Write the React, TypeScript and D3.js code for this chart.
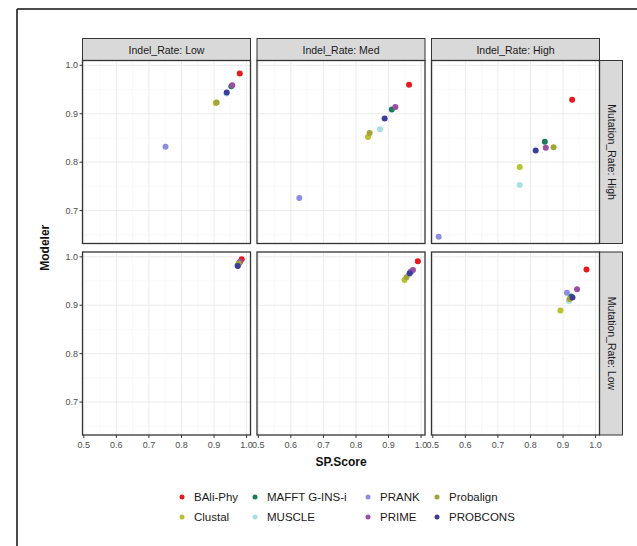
import React from 'react'
import * as d3 from 'd3'

const methods = ['BAli-Phy', 'Clustal', 'MAFFT G-INS-i', 'MUSCLE', 'PRANK', 'PRIME', 'Probalign', 'PROBCONS']
const colors = ['#e41a1c', '#b8c22e', '#1b7a5c', '#a8dfe0', '#8c8ce0', '#9a4fa0', '#a3a339', '#3d3d99']
const indelLevels = ['Low', 'Med', 'High']
const mutationLevels = ['High', 'Low']

// SP.Score / Modeler per facet, values in methods order
const spLowHigh = [0.979, 0.905, 0.953, 0.938, 0.751, 0.956, 0.908, 0.939]
const modLowHigh = [0.983, 0.922, 0.957, 0.942, 0.832, 0.959, 0.923, 0.944]
const spMedHigh = [0.963, 0.837, 0.910, 0.874, 0.626, 0.921, 0.842, 0.888]
const modMedHigh = [0.960, 0.852, 0.909, 0.868, 0.726, 0.914, 0.860, 0.890]
const spHighHigh = [0.928, 0.767, 0.844, 0.767, 0.518, 0.847, 0.871, 0.816]
const modHighHigh = [0.929, 0.790, 0.842, 0.753, 0.646, 0.830, 0.831, 0.824]
const spLowLow = [0.985, 0.975, 0.978, 0.975, 0.972, 0.980, 0.976, 0.973]
const modLowLow = [0.995, 0.985, 0.988, 0.985, 0.982, 0.990, 0.986, 0.981]
const spMedLow = [0.990, 0.949, 0.968, 0.962, 0.970, 0.975, 0.955, 0.965]
const modMedLow = [0.991, 0.952, 0.969, 0.963, 0.970, 0.973, 0.958, 0.966]
const spHighLow = [0.972, 0.892, 0.925, 0.918, 0.912, 0.943, 0.920, 0.929]
const modHighLow = [0.974, 0.889, 0.918, 0.909, 0.926, 0.933, 0.913, 0.916]

const xTicks = [0.5, 0.6, 0.7, 0.8, 0.9, 1.0]
const yTicks = [0.7, 0.8, 0.9, 1.0]

const panels = [
    [[spLowHigh, modLowHigh], [spMedHigh, modMedHigh], [spHighHigh, modHighHigh]],
    [[spLowLow, modLowLow], [spMedLow, modMedLow], [spHighLow, modHighLow]],
]

const W = 637, H = 546
const panelW = 168, panelH = 183
const lefts = [82.5, 257, 431.5]
const tops = [60.5, 252]
const font = 'Liberation Sans, Arial, sans-serif'

const App = () => {
    const x = d3.scaleLinear().domain([0.496, 1.012]).range([0, panelW])
    const y = d3.scaleLinear().domain([0.632, 1.01]).range([panelH, 0])
    const xMinor = d3.range(0.55, 1.0, 0.1)
    const yMinor = d3.range(0.65, 1.0, 0.1)
    const fmt = d3.format('.1f')

    return (
        <svg width={W} height={H} style={{ position: 'absolute', left: 0, top: 0, background: '#fff' }} fontFamily={font}>
            <line x1={17} x2={W} y1={9} y2={9} stroke="#111" strokeWidth={1.5} />
            <line x1={17} x2={17} y1={9} y2={H} stroke="#111" strokeWidth={1.5} />

            {indelLevels.map((lv, c) => (
                <g key={'s' + c} transform={`translate(${lefts[c]},38.5)`}>
                    <rect width={panelW} height={22} fill="#d9d9d9" stroke="#333" strokeWidth={1} />
                    <text x={panelW / 2} y={15} textAnchor="middle" fontSize={10.5} fill="#1a1a1a">{'Indel_Rate: ' + lv}</text>
                </g>
            ))}
            {mutationLevels.map((lv, r) => (
                <g key={'r' + r} transform={`translate(${lefts[2] + panelW},${tops[r]})`}>
                    <rect width={23} height={panelH} fill="#d9d9d9" stroke="#333" strokeWidth={1} />
                    <text transform={`translate(8,${panelH / 2}) rotate(90)`} textAnchor="middle" fontSize={10.5} fill="#1a1a1a">{'Mutation_Rate: ' + lv}</text>
                </g>
            ))}

            {panels.map((row, r) => row.map(([sp, mod], c) => (
                <g key={`p${r}${c}`} transform={`translate(${lefts[c]},${tops[r]})`}>
                    <rect width={panelW} height={panelH} fill="#fff" />
                    {xMinor.map(t => <line key={'xm' + t} x1={x(t)} x2={x(t)} y1={0} y2={panelH} stroke="#f2f2f2" strokeWidth={0.5} />)}
                    {yMinor.map(t => <line key={'ym' + t} y1={y(t)} y2={y(t)} x1={0} x2={panelW} stroke="#f2f2f2" strokeWidth={0.5} />)}
                    {xTicks.map(t => <line key={'x' + t} x1={x(t)} x2={x(t)} y1={0} y2={panelH} stroke="#ebebeb" strokeWidth={1} />)}
                    {yTicks.map(t => <line key={'y' + t} y1={y(t)} y2={y(t)} x1={0} x2={panelW} stroke="#ebebeb" strokeWidth={1} />)}
                    {methods.map((m, i) => (
                        <circle key={m} cx={x(sp[i])} cy={y(mod[i])} r={3} fill={colors[i]} />
                    ))}
                    <rect width={panelW} height={panelH} fill="none" stroke="#333" strokeWidth={1.3} />
                    {r === 1 && xTicks.map(t => (
                        <g key={'xt' + t} transform={`translate(${x(t)},${panelH})`}>
                            <line y1={0} y2={3} stroke="#333" />
                            <text y={13} textAnchor="middle" fontSize={9} fill="#4d4d4d">{fmt(t)}</text>
                        </g>
                    ))}
                    {c === 0 && yTicks.map(t => (
                        <g key={'yt' + t} transform={`translate(0,${y(t)})`}>
                            <line x1={-3} x2={0} stroke="#333" />
                            <text x={-4.5} dy="0.35em" textAnchor="end" fontSize={9} fill="#4d4d4d">{fmt(t)}</text>
                        </g>
                    ))}
                </g>
            )))}

            <text x={(lefts[0] + lefts[2] + panelW) / 2} y={466} textAnchor="middle" fontSize={12} fontWeight="bold" fill="#111">SP.Score</text>
            <text transform={`translate(49,${(tops[0] + tops[1] + panelH) / 2}) rotate(-90)`} textAnchor="middle" fontSize={12} fontWeight="bold" fill="#111">Modeler</text>

            {methods.map((m, i) => {
                const col = Math.floor(i / 2), row = i % 2
                const cx = [182, 255, 368, 437][col]
                return (
                    <g key={'lg' + m} transform={`translate(${cx},${497 + row * 20})`}>
                        <circle r={2.5} fill={colors[i]} />
                        <text x={12} dy="0.35em" fontSize={11.5} fill="#1a1a1a">{m}</text>
                    </g>
                )
            })}
        </svg>
    )
}

export default App
